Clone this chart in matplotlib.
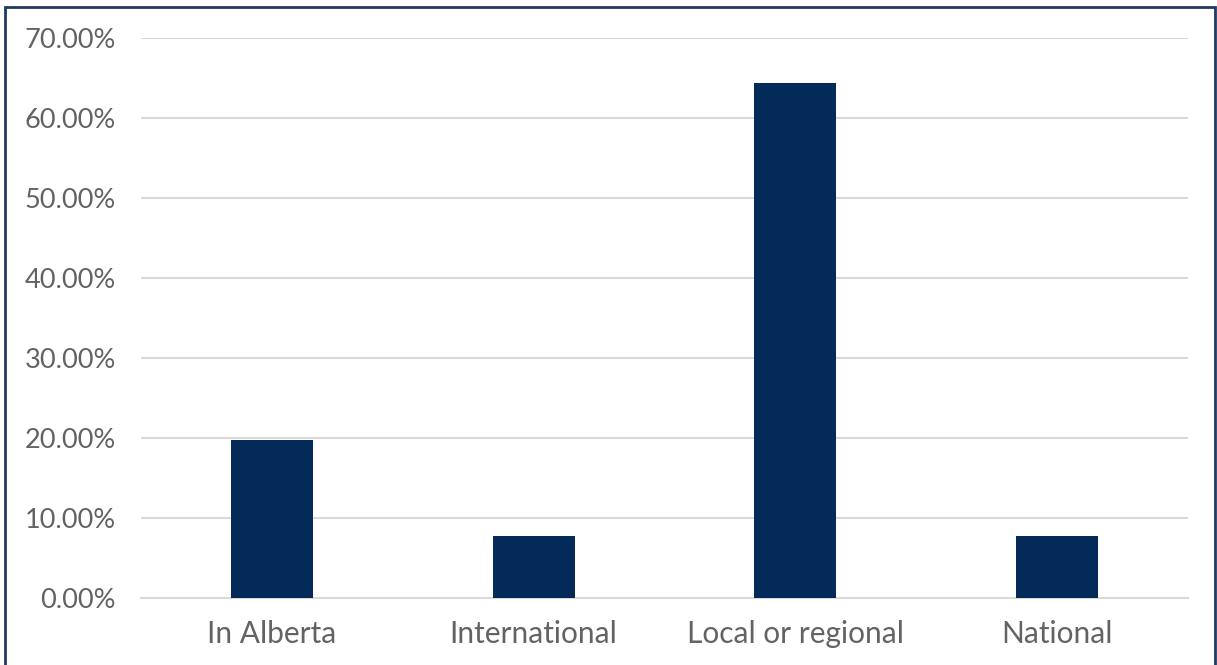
import matplotlib
matplotlib.use("Agg")
import matplotlib.pyplot as plt
from matplotlib.patches import Rectangle
from matplotlib.ticker import FuncFormatter

categories = ["In Alberta", "International", "Local or regional", "National"]
shares = [19.8, 7.7, 64.4, 7.7]
yticks = [0, 10, 20, 30, 40, 50, 60, 70]

plt.rcParams['font.family'] = ['Lato', 'DejaVu Sans']

W, H = 1217, 665
fig = plt.figure(figsize=(W/100, H/100), dpi=100)
ax = fig.add_axes([141/W, 1-598/H, (1188-141)/W, (598-38)/H])

ax.bar(range(len(categories)), shares, width=0.314, color="#042a5a", zorder=3)

ax.set_xlim(-0.5, len(categories)-0.5)
ax.set_ylim(0, 70)
ax.set_yticks(yticks)
ax.yaxis.set_major_formatter(FuncFormatter(lambda v, p: '%.2f%%' % v))
ax.set_xticks(range(len(categories)))
ax.set_xticklabels(categories)

ax.grid(axis='y', color='#d9d9d9', linewidth=1.5, zorder=0)
for s in ['top', 'right', 'left']:
    ax.spines[s].set_visible(False)
ax.spines['bottom'].set_color('#d9d9d9')
ax.spines['bottom'].set_linewidth(1.5)
ax.tick_params(axis='y', length=0, labelsize=19.5, labelcolor='#636363', pad=18)
ax.tick_params(axis='x', length=0, labelsize=21.5, labelcolor='#636363', pad=16)

# outer frame
fig.patches.append(Rectangle((5/W, -0.01), (1215-5)/W, 1-7/H+0.01,
                             transform=fig.transFigure, fill=False,
                             edgecolor='#1f3864', linewidth=2))

fig.savefig("out.png", dpi=100)
